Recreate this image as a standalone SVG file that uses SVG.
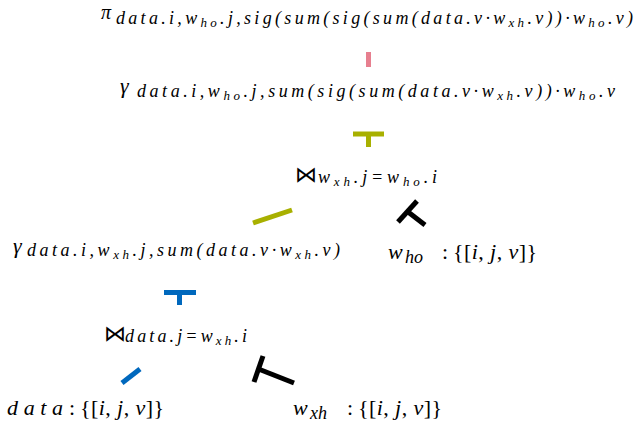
<svg xmlns="http://www.w3.org/2000/svg" width="634" height="432" viewBox="0 0 634 432">
<style>
text{font-family:"Liberation Serif","DejaVu Serif",serif;fill:#000}
.it{font-style:italic}
.big{font-size:22px}
.sub{font-size:18px;font-style:italic}
.ss{font-size:13px}
.bow{font-family:"DejaVu Sans","Noto Sans",sans-serif;font-size:22px}
.c{fill:none;stroke-width:5;stroke-linecap:butt}
.pink{stroke:#e77f8f}
.olive{stroke:#a8b000}
.blue{stroke:#0068bd}
.black{stroke:#000}
</style>
<g id="connectors">
<line class="c pink" x1="368.5" y1="52" x2="368.5" y2="67"/>
<line class="c olive" x1="353" y1="134" x2="384" y2="134"/>
<line class="c olive" x1="368.5" y1="134" x2="368.5" y2="147"/>
<line class="c olive" x1="253" y1="223" x2="292" y2="210"/>
<line class="c black" x1="398" y1="222" x2="417" y2="201"/>
<line class="c black" x1="407.5" y1="211.5" x2="425" y2="225"/>
<line class="c blue" x1="164" y1="292.5" x2="196" y2="292.5"/>
<line class="c blue" x1="179.5" y1="292.5" x2="179.5" y2="305"/>
<line class="c blue" x1="122" y1="383" x2="140" y2="369"/>
<line class="c black" x1="254" y1="382" x2="263" y2="356"/>
<line class="c black" x1="258.5" y1="369" x2="294" y2="383"/>
</g>
<g id="proj">
<text class="it" style="font-size:20px" x="101" y="19">π</text>
<text class="sub" x="116" y="24" textLength="517" lengthAdjust="spacing">data.i,w<tspan class="ss" dy="3">ho</tspan><tspan dy="-3">.j,sig(sum(sig(sum(data.v·w</tspan><tspan class="ss" dy="3">xh</tspan><tspan dy="-3">.v))·w</tspan><tspan class="ss" dy="3">ho</tspan><tspan dy="-3">.v)</tspan></text>
</g>
<g id="agg2">
<text class="big it" x="120" y="93">γ</text>
<text class="sub" x="137" y="97" textLength="478" lengthAdjust="spacing">data.i,w<tspan class="ss" dy="3">ho</tspan><tspan dy="-3">.j,sum(sig(sum(data.v·w</tspan><tspan class="ss" dy="3">xh</tspan><tspan dy="-3">.v))·w</tspan><tspan class="ss" dy="3">ho</tspan><tspan dy="-3">.v</tspan></text>
</g>
<g id="join2">
<text class="bow" x="295" y="182">⋈</text>
<text class="sub" x="318" y="183" textLength="119" lengthAdjust="spacing">w<tspan class="ss" dy="3">xh</tspan><tspan dy="-3">.j=w</tspan><tspan class="ss" dy="3">ho</tspan><tspan dy="-3">.i</tspan></text>
</g>
<g id="agg1">
<text class="big it" x="13" y="253">γ</text>
<text class="sub" x="27" y="256" textLength="313" lengthAdjust="spacing">data.i,w<tspan class="ss" dy="3">xh</tspan><tspan dy="-3">.j,sum(data.v·w</tspan><tspan class="ss" dy="3">xh</tspan><tspan dy="-3">.v)</tspan></text>
</g>
<g id="who">
<text class="big it" x="388" y="259">w</text>
<text class="sub" x="405" y="263">ho</text>
<text class="big" x="442" y="259">:</text>
<text class="big" x="453" y="259" textLength="84" lengthAdjust="spacing">{[<tspan class="it">i</tspan>, <tspan class="it">j</tspan>, <tspan class="it">v</tspan>]}</text>
</g>
<g id="join1">
<text class="bow" x="104" y="341">⋈</text>
<text class="sub" x="125" y="342" textLength="122" lengthAdjust="spacing">data.j=w<tspan class="ss" dy="3">xh</tspan><tspan dy="-3">.i</tspan></text>
</g>
<g id="data">
<text class="big it" x="7" y="415" textLength="56" lengthAdjust="spacing">data</text>
<text class="big" x="69" y="415">:</text>
<text class="big" x="80" y="415" textLength="84" lengthAdjust="spacing">{[<tspan class="it">i</tspan>, <tspan class="it">j</tspan>, <tspan class="it">v</tspan>]}</text>
</g>
<g id="wxh">
<text class="big it" x="293" y="415">w</text>
<text class="sub" x="310" y="419">xh</text>
<text class="big" x="347" y="415">:</text>
<text class="big" x="358" y="415" textLength="84" lengthAdjust="spacing">{[<tspan class="it">i</tspan>, <tspan class="it">j</tspan>, <tspan class="it">v</tspan>]}</text>
</g>
</svg>
